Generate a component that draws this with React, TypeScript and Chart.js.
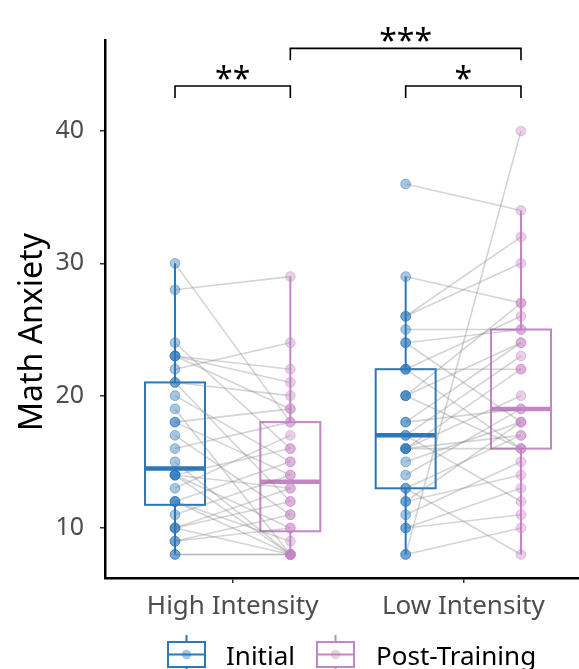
import React, { useEffect, useRef } from "react";
import { Chart, registerables } from "chart.js";

Chart.register(...registerables);

// ---------- data ----------
const groups = ["High Intensity", "Low Intensity"];
const conditions = ["Initial", "Post-Training"];
const yTickValues = [10, 20, 30, 40];
const yTitle = "Math Anxiety";

// paired scores: element i of Initial is the same participant as element i of Post-Training
const highInitial = [30, 28, 24, 23, 23, 23, 22, 21, 21, 20, 19, 18, 18, 17, 16, 15, 14, 14, 14, 14, 13, 12, 12, 12, 11, 10, 10, 10, 9, 9, 8, 8];
const highPost = [18, 29, 16, 22, 21, 19, 24, 12, 20, 15, 8, 19, 14, 11, 18, 8, 16, 13, 10, 8, 17, 15, 9, 8, 14, 12, 8, 13, 11, 10, 8, 8];
const lowInitial = [36, 29, 26, 26, 25, 24, 24, 22, 22, 22, 20, 20, 20, 18, 18, 17, 17, 16, 16, 16, 16, 15, 14, 13, 13, 12, 12, 11, 10, 10, 8, 8];
const lowPost = [34, 27, 32, 30, 25, 25, 18, 26, 16, 22, 27, 24, 16, 24, 19, 23, 12, 22, 20, 17, 16, 18, 19, 17, 8, 18, 14, 15, 13, 11, 40, 10];

// significance annotations: [groupIndex, conditionIndex] of each end
const sigLabels = ["**", "***", "*"];
const sigStart = [[0, 0], [0, 1], [1, 0]];
const sigEnd = [[0, 1], [1, 1], [1, 1]];
const sigLevel = [43.4, 46.25, 43.4];

// ---------- styling ----------
const FONT = "'Noto Sans', 'Open Sans', sans-serif";
const condColors = ["#2A77B9", "#C584C6"];
const condFill = ["rgba(42,119,185,0.42)", "rgba(197,132,198,0.38)"];
const condStroke = ["rgba(42,119,185,0.45)", "rgba(197,132,198,0.42)"];

const seriesValues = [
  [highInitial, highPost],
  [lowInitial, lowPost],
];

const posOf = (g: number, c: number) => 1 + g * 2 + c;

function quantile(sorted: number[], p: number) {
  const h = (sorted.length - 1) * p;
  const lo = Math.floor(h);
  const hi = Math.ceil(h);
  return sorted[lo] + (h - lo) * (sorted[hi] - sorted[lo]);
}

function boxStats(vals: number[]) {
  const s = [...vals].sort((a, b) => a - b);
  const q1 = quantile(s, 0.25);
  const med = quantile(s, 0.5);
  const q3 = quantile(s, 0.75);
  const iqr = q3 - q1;
  const lo = s.find((v) => v >= q1 - 1.5 * iqr) as number;
  const hi = [...s].reverse().find((v) => v <= q3 + 1.5 * iqr) as number;
  return { q1, med, q3, lo, hi };
}

const boxPlugin = {
  id: "boxes",
  beforeDatasetsDraw(chart: any) {
    const { ctx, scales } = chart;
    const x = scales.x;
    const y = scales.y;
    ctx.save();
    seriesValues.forEach((pair, g) => {
      pair.forEach((vals, c) => {
        const st = boxStats(vals);
        const p = posOf(g, c);
        const cx = x.getPixelForValue(p);
        const l = x.getPixelForValue(p - 0.26);
        const r = x.getPixelForValue(p + 0.26);
        ctx.strokeStyle = condColors[c];
        ctx.lineWidth = 2;
        ctx.beginPath();
        ctx.moveTo(cx, y.getPixelForValue(st.hi));
        ctx.lineTo(cx, y.getPixelForValue(st.q3));
        ctx.moveTo(cx, y.getPixelForValue(st.q1));
        ctx.lineTo(cx, y.getPixelForValue(st.lo));
        ctx.stroke();
        const top = y.getPixelForValue(st.q3);
        const bot = y.getPixelForValue(st.q1);
        ctx.strokeRect(l, top, r - l, bot - top);
        ctx.lineWidth = 4.5;
        ctx.beginPath();
        ctx.moveTo(l, y.getPixelForValue(st.med));
        ctx.lineTo(r, y.getPixelForValue(st.med));
        ctx.stroke();
      });
    });
    ctx.restore();
  },
};

const annotPlugin = {
  id: "annot",
  afterDraw(chart: any) {
    const { ctx, scales, chartArea } = chart;
    const x = scales.x;
    const y = scales.y;
    ctx.save();

    // y axis title
    ctx.save();
    ctx.translate(33, (chartArea.top + chartArea.bottom) / 2 + 23);
    ctx.rotate(-Math.PI / 2);
    ctx.fillStyle = "#000";
    ctx.font = `32px ${FONT}`;
    ctx.textAlign = "center";
    ctx.textBaseline = "middle";
    ctx.fillText(yTitle, 0, 0);
    ctx.restore();

    // significance brackets
    ctx.strokeStyle = "#000";
    ctx.lineWidth = 1.6;
    ctx.fillStyle = "#000";
    ctx.font = `32px ${FONT}`;
    ctx.textAlign = "center";
    ctx.textBaseline = "alphabetic";
    sigLabels.forEach((lab, i) => {
      const x1 = x.getPixelForValue(posOf(sigStart[i][0], sigStart[i][1]));
      const x2 = x.getPixelForValue(posOf(sigEnd[i][0], sigEnd[i][1]));
      const yb = y.getPixelForValue(sigLevel[i]);
      ctx.beginPath();
      ctx.moveTo(x1, yb + 12);
      ctx.lineTo(x1, yb);
      ctx.lineTo(x2, yb);
      ctx.lineTo(x2, yb + 12);
      ctx.stroke();
      ctx.fillText(lab, (x1 + x2) / 2, yb + 4);
    });

    // legend
    const legendX = [168, 317];
    const textX = [226, 376];
    const glyphW = 37;
    conditions.forEach((name, c) => {
      const lx = legendX[c];
      const mx = lx + glyphW / 2;
      ctx.strokeStyle = condColors[c];
      ctx.lineWidth = 2;
      ctx.beginPath();
      ctx.moveTo(mx, 635);
      ctx.lineTo(mx, 642);
      ctx.moveTo(mx, 667);
      ctx.lineTo(mx, 675);
      ctx.stroke();
      ctx.strokeRect(lx, 642, glyphW, 25);
      ctx.beginPath();
      ctx.moveTo(lx, 654.5);
      ctx.lineTo(lx + glyphW, 654.5);
      ctx.stroke();
      ctx.fillStyle = condFill[c];
      ctx.beginPath();
      ctx.arc(mx, 654.5, 4.8, 0, Math.PI * 2);
      ctx.fill();
      ctx.fillStyle = "#000";
      ctx.font = `26px ${FONT}`;
      ctx.textAlign = "left";
      ctx.fillText(name, textX[c], 665);
    });
    ctx.restore();
  },
};

export default function App() {
  const ref = useRef<HTMLCanvasElement | null>(null);

  useEffect(() => {
    if (!ref.current) return;
    const datasets: any[] = [];
    // points (drawn on top)
    seriesValues.forEach((pair, g) => {
      pair.forEach((vals, c) => {
        datasets.push({
          type: "scatter",
          data: vals.map((v) => ({ x: posOf(g, c), y: v })),
          backgroundColor: condFill[c],
          borderColor: condStroke[c],
          borderWidth: 1,
          pointRadius: 4.9,
          order: 0,
        });
      });
    });
    // paired lines
    seriesValues.forEach((pair, g) => {
      pair[0].forEach((v0, i) => {
        datasets.push({
          type: "line",
          data: [
            { x: posOf(g, 0), y: v0 },
            { x: posOf(g, 1), y: pair[1][i] },
          ],
          borderColor: "rgba(130,130,130,0.34)",
          borderWidth: 1.6,
          pointRadius: 0,
          fill: false,
          order: 1,
        });
      });
    });

    const chart = new Chart(ref.current, {
      type: "scatter",
      data: { datasets },
      options: {
        responsive: false,
        animation: false,
        events: [],
        layout: { autoPadding: false, padding: { top: 40, right: 0, bottom: 0, left: 0 } },
        plugins: { legend: { display: false }, tooltip: { enabled: false } },
        scales: {
          x: {
            type: "linear",
            min: 0.393,
            max: 4.503,
            afterFit(scale: any) {
              scale.height = 91;
            },
            afterBuildTicks(scale: any) {
              scale.ticks = [{ value: 1.5 }, { value: 3.5 }];
            },
            ticks: {
              callback: (v: any) => (v < 2.5 ? groups[0] : groups[1]),
              font: { family: FONT, size: 26 },
              color: "#4D4D4D",
              padding: 8,
              maxRotation: 0,
              autoSkip: false,
            },
            grid: { drawOnChartArea: false, drawTicks: true, tickLength: 5, color: "#333", lineWidth: 1.5 },
            border: { display: true, color: "#000", width: 2.5 },
          },
          y: {
            type: "linear",
            min: 6.22,
            max: 46.88,
            afterFit(scale: any) {
              scale.width = 105;
            },
            afterBuildTicks(scale: any) {
              scale.ticks = yTickValues.map((v) => ({ value: v }));
            },
            ticks: {
              font: { family: FONT, size: 25 },
              color: "#4D4D4D",
              padding: 16,
              autoSkip: false,
            },
            grid: { drawOnChartArea: false, drawTicks: true, tickLength: 5, color: "#333", lineWidth: 1.5 },
            border: { display: true, color: "#000", width: 2.5 },
          },
        },
      },
      plugins: [boxPlugin, annotPlugin],
    } as any);
    return () => chart.destroy();
  }, []);

  return (
    <div style={{ position: "fixed", left: 0, top: 0, width: 579, height: 669, background: "#fff" }}>
      <canvas ref={ref} width={579} height={669} style={{ display: "block" }} />
    </div>
  );
}
